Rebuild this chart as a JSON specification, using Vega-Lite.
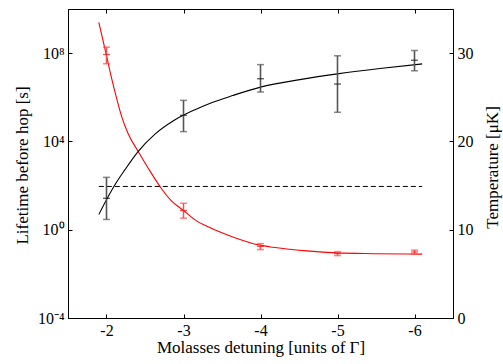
{
  "$schema": "https://vega.github.io/schema/vega-lite/v6.json",
  "width": 385,
  "height": 309,
  "autosize": {"type": "none"},
  "padding": {"left": 68, "top": 9, "right": 50, "bottom": 46},
  "background": "white",
  "config": {
    "font": "Liberation Serif",
    "view": {"stroke": "black", "strokeWidth": 1},
    "axis": {
      "labelFont": "Liberation Serif",
      "titleFont": "Liberation Serif",
      "labelFontSize": 16,
      "titleFontSize": 17,
      "titleFontWeight": "normal",
      "labelColor": "black",
      "titleColor": "black",
      "domainColor": "black",
      "tickColor": "black",
      "tickSize": -4,
      "grid": false,
      "labelPadding": 8
    }
  },
  "datasets": {
    "life_fit": [
      {"x": -1.9, "life": 2.5e9},
      {"x": -2.0, "life": 7.8e7},
      {"x": -2.065, "life": 7.6e6},
      {"x": -2.13, "life": 9.3e5},
      {"x": -2.195, "life": 1.4e5},
      {"x": -2.28, "life": 2.3e4},
      {"x": -2.41, "life": 3.6e3},
      {"x": -2.54, "life": 630},
      {"x": -2.71, "life": 76},
      {"x": -2.84, "life": 21},
      {"x": -3.0, "life": 7.4},
      {"x": -3.15, "life": 2.8},
      {"x": -3.34, "life": 1.25},
      {"x": -3.64, "life": 0.47},
      {"x": -3.99, "life": 0.2},
      {"x": -4.16, "life": 0.16},
      {"x": -4.6, "life": 0.11},
      {"x": -5.0, "life": 0.089},
      {"x": -5.46, "life": 0.082},
      {"x": -6.1, "life": 0.078}
    ],
    "life_pts": [
      {"x": -2, "life": 8.7e7, "lo": 3.3e7, "hi": 1.86e8},
      {"x": -3, "life": 7.4, "lo": 3.34, "hi": 15.8},
      {"x": -4, "life": 0.177, "lo": 0.126, "hi": 0.234},
      {"x": -5, "life": 0.083, "lo": 0.067, "hi": 0.102},
      {"x": -6, "life": 0.098, "lo": 0.079, "hi": 0.12}
    ],
    "temp_fit": [
      {"x": -1.9, "T": 11.72},
      {"x": -2.0, "T": 13.4},
      {"x": -2.1, "T": 14.95},
      {"x": -2.24, "T": 16.8},
      {"x": -2.41, "T": 18.85},
      {"x": -2.63, "T": 20.82},
      {"x": -2.89, "T": 22.45},
      {"x": -3.15, "T": 23.6},
      {"x": -3.34, "T": 24.3},
      {"x": -3.64, "T": 25.2},
      {"x": -4.0, "T": 26.15},
      {"x": -4.51, "T": 27.0},
      {"x": -5.0, "T": 27.65},
      {"x": -5.55, "T": 28.26},
      {"x": -6.1, "T": 28.78}
    ],
    "temp_pts": [
      {"x": -2, "T": 13.56, "lo": 11.16, "hi": 15.93},
      {"x": -3, "T": 22.96, "lo": 21.11, "hi": 24.65},
      {"x": -4, "T": 27.1, "lo": 25.6, "hi": 28.7},
      {"x": -5, "T": 26.5, "lo": 23.3, "hi": 29.7},
      {"x": -6, "T": 29.2, "lo": 28.0, "hi": 30.3}
    ],
    "threshold": [
      {"x": -1.9, "T": 14.9},
      {"x": -6.1, "T": 14.9}
    ]
  },
  "layer": [
    {
      "layer": [
        {
          "data": {"name": "life_fit"},
          "mark": {"type": "line", "color": "#ff0000", "strokeWidth": 1.1, "interpolate": "monotone"},
          "encoding": {
            "x": {"field": "x", "type": "quantitative",
              "scale": {"domain": [-6.5, -1.5], "reverse": true, "nice": false, "zero": false},
              "axis": {"values": [-2, -3, -4, -5, -6], "labelExpr": "'-' + abs(datum.value)", "title": "Molasses detuning [units of Γ]", "titlePadding": 1}},
            "y": {"field": "life", "type": "quantitative",
              "scale": {"type": "log", "domain": [0.0001, 1e10], "nice": false},
              "axis": {"values": [0.0001, 1, 10000, 100000000],
                "labelExpr": "datum.value < 0.001 ? '10⁻⁴' : datum.value < 10 ? '10⁰' : datum.value < 1000000 ? '10⁴' : '10⁸'",
                "title": "Lifetime before hop [s]", "titleX": -46, "titleY": 156, "titleBaseline": "middle", "titleAlign": "center", "titleAngle": 270}}
          }
        },
        {
          "data": {"name": "life_pts"},
          "mark": {"type": "rule", "color": "#ff4d4d", "strokeWidth": 1.5},
          "encoding": {
            "x": {"field": "x", "type": "quantitative"},
            "y": {"field": "lo", "type": "quantitative"},
            "y2": {"field": "hi"}
          }
        },
        {
          "data": {"name": "life_pts"},
          "transform": [{"fold": ["lo", "hi"], "as": ["k", "v"]}],
          "mark": {"type": "tick", "orient": "horizontal", "size": 7, "thickness": 1.5, "color": "#ff4d4d"},
          "encoding": {
            "x": {"field": "x", "type": "quantitative"},
            "y": {"field": "v", "type": "quantitative"}
          }
        },
        {
          "data": {"name": "life_pts"},
          "mark": {"type": "tick", "orient": "horizontal", "size": 7, "thickness": 1.2, "color": "#ff0000"},
          "encoding": {
            "x": {"field": "x", "type": "quantitative"},
            "y": {"field": "life", "type": "quantitative"}
          }
        }
      ]
    },
    {
      "layer": [
        {
          "data": {"name": "temp_fit"},
          "mark": {"type": "line", "color": "black", "strokeWidth": 1.1, "interpolate": "monotone"},
          "encoding": {
            "x": {"field": "x", "type": "quantitative",
              "scale": {"domain": [-6.5, -1.5], "reverse": true, "nice": false, "zero": false},
              "axis": {"orient": "top", "values": [-2, -3, -4, -5, -6], "labels": false, "title": null, "domain": false}},
            "y": {"field": "T", "type": "quantitative",
              "scale": {"domain": [0, 35], "nice": false, "zero": false},
              "axis": {"orient": "right", "values": [0, 10, 20, 30], "title": "Temperature [μK]",
                "titleAngle": 270, "titleX": 39, "titleY": 158, "titleBaseline": "middle", "titleAlign": "center"}}
          }
        },
        {
          "data": {"name": "threshold"},
          "mark": {"type": "line", "color": "black", "strokeWidth": 1, "strokeDash": [5, 3]},
          "encoding": {
            "x": {"field": "x", "type": "quantitative"},
            "y": {"field": "T", "type": "quantitative"}
          }
        },
        {
          "data": {"name": "temp_pts"},
          "mark": {"type": "rule", "color": "#555555", "strokeWidth": 1.6},
          "encoding": {
            "x": {"field": "x", "type": "quantitative"},
            "y": {"field": "lo", "type": "quantitative"},
            "y2": {"field": "hi"}
          }
        },
        {
          "data": {"name": "temp_pts"},
          "transform": [{"fold": ["lo", "hi"], "as": ["k", "v"]}],
          "mark": {"type": "tick", "orient": "horizontal", "size": 7, "thickness": 1.5, "color": "#555555"},
          "encoding": {
            "x": {"field": "x", "type": "quantitative"},
            "y": {"field": "v", "type": "quantitative"}
          }
        },
        {
          "data": {"name": "temp_pts"},
          "mark": {"type": "tick", "orient": "horizontal", "size": 7, "thickness": 1.2, "color": "black"},
          "encoding": {
            "x": {"field": "x", "type": "quantitative"},
            "y": {"field": "T", "type": "quantitative"}
          }
        }
      ]
    }
  ],
  "resolve": {"scale": {"y": "independent"}, "axis": {"x": "independent", "y": "independent"}}
}
